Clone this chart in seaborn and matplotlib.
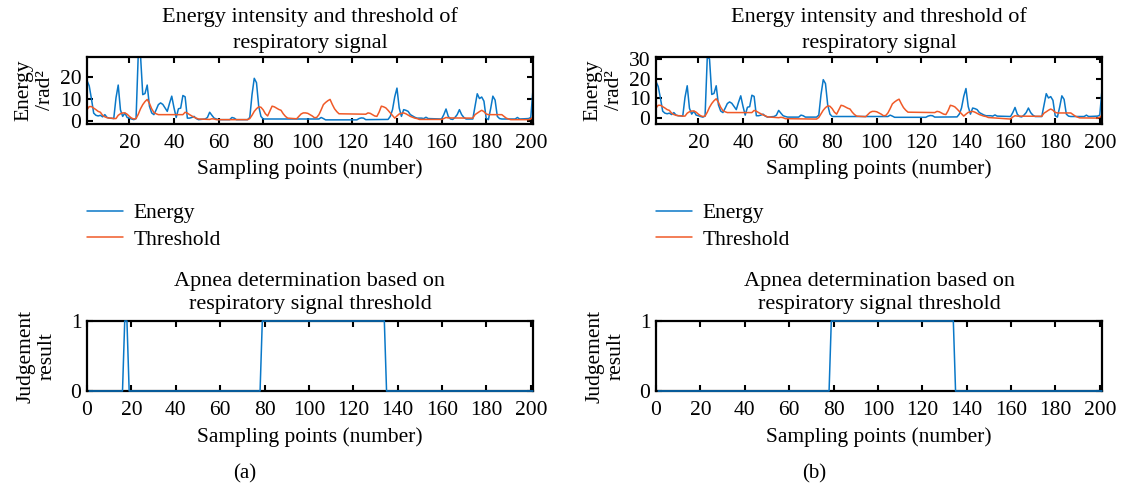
import numpy as np
import pandas as pd
import matplotlib
matplotlib.use("Agg")
import matplotlib.pyplot as plt
import seaborn as sns

# Dados (vertices das curvas: indice da amostra, valor)
energy_x = [1, 2, 3, 4, 5, 6, 7, 8, 9, 10, 11, 13, 14, 15, 16, 17, 18, 19, 20, 21, 22, 23,
            24, 25, 26, 27, 28, 29, 30, 31, 32, 33, 34, 35, 36, 37, 38, 39, 40, 41, 42, 43,
            44, 45, 46, 47, 48, 49, 50, 51, 54, 55, 56, 57, 58, 59, 60, 65, 66, 67, 68, 73,
            74, 75, 76, 77, 78, 79, 80, 105, 106, 107, 108, 122, 123, 124, 125, 126, 136,
            137, 138, 139, 140, 141, 142, 143, 144, 145, 146, 147, 148, 149, 151, 152, 153,
            154, 160, 161, 162, 163, 164, 165, 166, 167, 168, 169, 170, 171, 174, 175, 176,
            177, 178, 179, 180, 181, 182, 183, 184, 185, 186, 187, 193, 194, 195, 199, 200, 201]
energy_a = [18.5, 16, 10, 3.5, 2.5, 2.2, 2.5, 1.8, 2.8, 1.5, 1.2, 1.0, 10.5, 16.4, 5, 2,
            3.5, 1.5, 1.2, 0.8, 0.5, 1, 31, 30, 12, 12.5, 16.4, 6.7, 3.6, 2.8, 5, 7.4, 8.2,
            7.5, 5.9, 4.3, 8, 11.3, 6, 1.5, 5.5, 5.8, 11.6, 11, 1.2, 1.2, 1.5, 2, 1, 0.5,
            0.8, 1.5, 3.9, 2.5, 1.2, 0.8, 0.5, 0.5, 1.5, 1.2, 0.5, 0.5, 1.5, 12, 19.5, 17.5,
            6.7, 2, 0.8, 0.8, 1.5, 1.0, 0.4, 0.4, 1, 1.3, 1.2, 0.5, 0.6, 2, 5.1, 11, 15,
            5.9, 2, 5.1, 4.8, 4.3, 2.8, 2.2, 1.6, 1.2, 1.2, 1, 1.6, 1, 0.8, 2.8, 5.4, 2,
            0.8, 0.6, 1.5, 2.8, 5.1, 2.8, 1.5, 0.8, 0.8, 6.7, 12.4, 10.2, 10.9, 9, 1.2, 0.5,
            5.5, 11.3, 9.5, 2, 1, 0.8, 0.8, 1.5, 0.8, 1, 1.5, 14.4]
energy_b = energy_a

threshold_x = [1, 2, 3, 4, 5, 6, 7, 8, 9, 10, 11, 12, 13, 14, 15, 16, 17, 18, 19, 20, 21,
               22, 23, 24, 25, 26, 27, 28, 29, 30, 31, 32, 33, 44, 45, 46, 47, 48, 49, 50,
               51, 56, 57, 58, 59, 73, 74, 75, 76, 77, 78, 79, 80, 81, 82, 83, 84, 85, 86,
               87, 88, 89, 90, 91, 95, 96, 97, 98, 99, 100, 101, 102, 103, 104, 105, 106,
               107, 108, 109, 110, 111, 112, 113, 114, 126, 127, 128, 129, 130, 131, 132,
               133, 134, 135, 136, 137, 138, 139, 140, 141, 142, 143, 144, 145, 146, 147,
               148, 149, 150, 160, 161, 162, 163, 174, 175, 176, 177, 178, 179, 180, 181,
               187, 188, 189, 190, 191, 199, 200, 201]
threshold_a = [5.1, 6.5, 6.5, 5.8, 5.1, 4.3, 3.9, 2.5, 1.8, 1.4, 1.2, 1.2, 1.0, 1.0, 2.5,
               3.2, 3.6, 3.6, 3, 2, 1.2, 0.8, 1, 3, 5.5, 7.4, 8.8, 9.8, 8, 5.5, 3.8, 3.2,
               2.8, 2.8, 3.9, 3.5, 2.8, 2.2, 1.6, 1.2, 0.8, 0.6, 0.9, 0.8, 0.5, 0.5, 1, 2.5,
               4.3, 5.5, 6.4, 6.2, 5, 3.2, 2.2, 4.5, 6.7, 6.4, 5.8, 5.2, 4.8, 3.2, 2, 1.2,
               0.9, 2, 3.1, 3.6, 3.6, 3.4, 2.8, 2.2, 1.4, 1.5, 2.8, 5, 7.4, 8.4, 9.2, 9.8,
               7.5, 5.5, 4.2, 3.2, 3, 3.6, 3.4, 2.8, 2.2, 2, 4, 6.7, 6.4, 5.9, 4.8, 3.6, 2.4,
               1.2, 2.2, 3.1, 3.4, 3.6, 3.2, 2.6, 2, 1.6, 1.2, 1, 0.6, 0.6, 1.0, 1.5, 1.3,
               1.2, 2.8, 3.5, 4.2, 4.8, 4.2, 3.1, 2.8, 2.8, 2, 1.2, 0.8, 0.5, 0.5, 0.8, 1.7]
threshold_b = [5.1, 6.5, 6.5, 5.8, 5.1, 4.3, 3.9, 2.5, 1.8, 1.4, 1.2, 1.2, 1.0, 1.0, 2.5,
               3.2, 3.6, 3.6, 3, 2, 1.2, 0.8, 1, 3, 5.5, 7.4, 8.8, 9.8, 8, 5.5, 3.8, 3.2,
               2.8, 2.8, 3.9, 3.5, 2.8, 2.2, 1.6, 1.2, 0.6, 0.2, 0.4, 0.2, -0.3, -0.5, 0.3, 2.2,
               4.0, 5.3, 6.2, 6.0, 4.8, 3.0, 2.0, 4.3, 6.5, 6.2, 5.6, 5.0, 4.6, 3.0, 1.8, 1.0,
               0.7, 1.8, 2.9, 3.4, 3.4, 3.2, 2.6, 2.0, 1.2, 1.3, 2.6, 4.8, 7.2, 8.2, 9.0, 9.6,
               7.3, 5.3, 4.0, 3.0, 2.8, 3.4, 3.2, 2.6, 2.0, 1.8, 3.8, 6.5, 6.2, 5.7, 4.6, 3.4, 2.2,
               1.0, 2.0, 2.9, 3.2, 3.4, 3.0, 2.4, 1.8, 1.4, 1.0, 0.8, 0.3, -0.5, 0.6, 1.2, 1.0,
               0.9, 2.5, 3.2, 4.0, 4.6, 4.0, 2.9, 2.6, 2.6, 1.8, 1.0, 0.5, 0.1, 0.0, 0.4, 1.5]

judge_x = [1, 16, 17, 18, 19, 78, 79, 134, 135, 201]
judge_a = [0, 0, 1, 1, 0, 0, 1, 1, 0, 0]
judge_b = [0, 0, 0, 0, 0, 0, 1, 1, 0, 0]

azul = "#0a78c8"
laranja = "#f05a28"

sns.set_style("ticks")
plt.rcParams["font.family"] = ["Liberation Serif", "DejaVu Serif"]
plt.rcParams["font.size"] = 15.5
plt.rcParams["text.color"] = "black"
plt.rcParams["axes.labelcolor"] = "black"
plt.rcParams["axes.edgecolor"] = "black"
plt.rcParams["xtick.color"] = "black"
plt.rcParams["ytick.color"] = "black"
plt.rcParams["axes.linewidth"] = 1.6
plt.rcParams["xtick.direction"] = "in"
plt.rcParams["ytick.direction"] = "in"
plt.rcParams["xtick.major.width"] = 1.5
plt.rcParams["ytick.major.width"] = 1.5
plt.rcParams["xtick.major.size"] = 4
plt.rcParams["ytick.major.size"] = 4
plt.rcParams["xtick.major.pad"] = 7
plt.rcParams["ytick.major.pad"] = 4
plt.rcParams["xtick.top"] = True
plt.rcParams["ytick.right"] = True

W, H = 1122, 492
fig = plt.figure(figsize=(W / 100, H / 100), dpi=100)


def caixa(x0, y0, x1, y1):
    return [x0 / W, (H - y1) / H, (x1 - x0) / W, (y1 - y0) / H]


paineis = [
    ("(a)", 87, energy_a, threshold_a, judge_a, (-1.5, 29.3), [0, 10, 20]),
    ("(b)", 656, energy_b, threshold_b, judge_b, (-3, 31), [0, 10, 20, 30]),
]

for letra, x0, energia, limiar, julg, ylim, yticks in paineis:
    # Grafico superior - energia e limiar
    ax = fig.add_axes(caixa(x0, 57, x0 + 446, 124))
    sns.lineplot(x=energy_x, y=energia, ax=ax, color=azul, lw=1.1, label="Energy")
    sns.lineplot(x=threshold_x, y=limiar, ax=ax, color=laranja, lw=1.1, label="Threshold")
    ax.set_xlim(1, 201)
    ax.set_ylim(*ylim)
    ax.set_xticks(range(20, 201, 20))
    ax.set_yticks(yticks)
    ax.set_title("Energy intensity and threshold of\nrespiratory signal", pad=6.3,
                 linespacing=1.55, fontsize=16)
    ax.set_xlabel("Sampling points (number)", labelpad=5)
    ax.set_ylabel("Energy\n/rad²", linespacing=1.15)
    ax.yaxis.set_label_coords(-0.072, 0.5)
    ax.legend(loc="upper left", bbox_to_anchor=(0.0, -1.18), frameon=False,
              borderpad=0, borderaxespad=0, handlelength=1.65, handletextpad=0.5,
              labelspacing=0.3)

    # Grafico inferior - determinacao de apneia
    ax2 = fig.add_axes(caixa(x0, 321, x0 + 446, 391))
    sns.lineplot(x=judge_x, y=julg, ax=ax2, color=azul, lw=1.1, clip_on=False, zorder=5)
    ax2.set_xlim(0, 201)
    ax2.set_ylim(0, 1)
    ax2.set_xticks(range(0, 201, 20))
    ax2.set_yticks([0, 1])
    ax2.set_title("Apnea determination based on\nrespiratory signal threshold", pad=8.5,
                  linespacing=1.3, fontsize=16)
    ax2.set_xlabel("Sampling points (number)", labelpad=5.5)
    ax2.set_ylabel("Judgement\nresult", linespacing=1.15)
    ax2.yaxis.set_label_coords(-0.068, 0.5)

    fig.text((x0 + 158) / W, 1 - 474 / H, letra, ha="center", va="center", fontsize=15)

plt.savefig("out.png", dpi=100)
plt.close()
